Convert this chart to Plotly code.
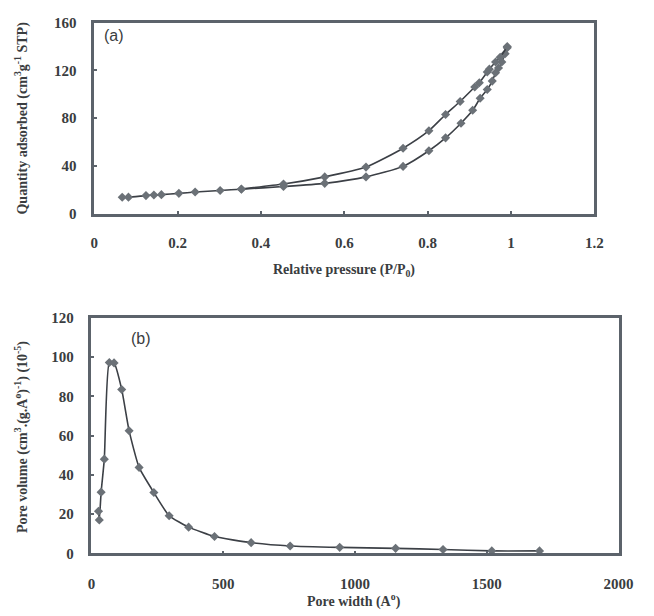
import plotly.graph_objects as go

# Panel (a): N2 adsorption/desorption isotherm
ads_p = [0.067, 0.082, 0.124, 0.143, 0.161, 0.203, 0.242, 0.302, 0.353, 0.454, 0.553, 0.652,
         0.741, 0.803, 0.843, 0.880, 0.908, 0.926, 0.943, 0.955, 0.963, 0.970, 0.978, 0.986, 0.991]
ads_q = [13.6, 13.7, 15.0, 15.5, 15.8, 16.9, 18.0, 19.3, 20.4, 22.6, 25.3, 30.7,
         39.5, 52.6, 63.4, 75.7, 86.5, 96.6, 104.0, 111.0, 118.0, 122.0, 127.0, 134.0, 139.0]
des_p = [0.991, 0.974, 0.963, 0.948, 0.943, 0.924, 0.913, 0.878, 0.843, 0.803, 0.741, 0.652,
         0.553, 0.454, 0.353]
des_q = [140.0, 131.0, 127.0, 121.0, 118.6, 109.6, 106.0, 93.9, 83.0, 69.4, 54.7, 38.9,
         30.7, 24.7, 20.6]

# Panel (b): pore size distribution
pore_w = [27, 30, 37, 49, 68, 86, 115, 143, 181, 237, 295, 369, 467, 606, 754, 942, 1154, 1334, 1519, 1700]
pore_v = [21.5, 17.0, 31.2, 48.0, 97.2, 97.0, 83.5, 62.5, 43.8, 31.0, 19.2, 13.4, 8.6, 5.5, 3.8, 3.1, 2.6, 2.0, 1.3, 1.3]

a_xticks = [0, 0.2, 0.4, 0.6, 0.8, 1, 1.2]
a_xlabels = ["0", "0.2", "0.4", "0.6", "0.8", "1", "1.2"]
a_yticks = [0, 40, 80, 120, 160]
b_xticks = [0, 500, 1000, 1500, 2000]
b_yticks = [0, 20, 40, 60, 80, 100, 120]

LINE = "#3c4046"
MARK = "#6b7177"
AX = "#5c636b"
SERIF = "Liberation Serif, Times New Roman, serif"

def bold(labels):
    return ["<b>%s</b>" % s for s in labels]

fig = go.Figure()

def add(x, y, xa, ya, smooth=0.6):
    fig.add_trace(go.Scatter(
        x=x, y=y, xaxis=xa, yaxis=ya, mode="lines+markers",
        line=dict(color=LINE, width=1.6, shape="spline", smoothing=smooth),
        marker=dict(symbol="diamond", size=7, color=MARK, line=dict(width=0)),
        showlegend=False, hoverinfo="skip"))

add(ads_p, ads_q, "x", "y")
add(des_p, des_q, "x", "y")
add(pore_w, pore_v, "x2", "y2", smooth=0.5)

axis_common = dict(showgrid=False, zeroline=False, showline=True, linecolor=AX, linewidth=2.5,
                   mirror=True, ticks="inside", ticklen=3, tickcolor=AX, tickwidth=1.5,
                   tickfont=dict(family=SERIF, size=15, color="#3a3d40"))

W, H = 654, 616
def px(x): return x / W
def py(y): return 1 - y / H

fig.update_layout(
    width=W, height=H, margin=dict(l=0, r=0, t=0, b=0),
    paper_bgcolor="white", plot_bgcolor="white",
    xaxis=dict(domain=[px(93), px(608)], range=[0, 1.2], tickvals=a_xticks, ticktext=bold(a_xlabels),
               anchor="y", ticklabelstandoff=14, **axis_common),
    yaxis=dict(domain=[py(211), py(15)], range=[0, 160], tickvals=a_yticks,
               ticktext=bold([str(v) for v in a_yticks]),
               anchor="x", ticklabelstandoff=12, **axis_common),
    xaxis2=dict(domain=[px(90), px(633)], range=[0, 2000], tickvals=b_xticks,
                ticktext=bold([str(v) for v in b_xticks]),
                anchor="y2", ticklabelstandoff=15, **axis_common),
    yaxis2=dict(domain=[py(560), py(318)], range=[0, 120], tickvals=b_yticks,
                ticktext=bold([str(v) for v in b_yticks]),
                anchor="x2", ticklabelstandoff=12, **axis_common),
)

tfont = dict(family=SERIF, size=14, color="#3a3d40")
ann = [
    dict(text="<b>Relative pressure (P/P<sub>0</sub>)</b>", x=px(350), y=py(270)),
    dict(text="<b>Quantity adsorbed (cm<sup>3</sup>g<sup>-1</sup> STP)</b>", x=px(18), y=py(113), textangle=-90),
    dict(text="<b>Pore width (A<sup>o</sup>)</b>", x=px(360), y=py(608)),
    dict(text="<b>Pore volume (cm<sup>3</sup>.(g.A<sup>o</sup>)<sup>-1</sup>) (10<sup>-5</sup>)</b>", x=px(18), y=py(440), textangle=-90),
]
for a in ann:
    fig.add_annotation(xref="paper", yref="paper", showarrow=False, font=tfont,
                       xanchor="center", yanchor="middle", **a)

lfont = dict(family="Liberation Sans, Arial, sans-serif", size=16, color="#3a3d40")
fig.add_annotation(xref="paper", yref="paper", x=px(113), y=py(28), text="(a)", showarrow=False,
                   font=lfont, xanchor="center", yanchor="middle")
fig.add_annotation(xref="paper", yref="paper", x=px(141), y=py(339), text="(b)", showarrow=False,
                   font=lfont, xanchor="center", yanchor="middle")

fig.write_html("out.html")
